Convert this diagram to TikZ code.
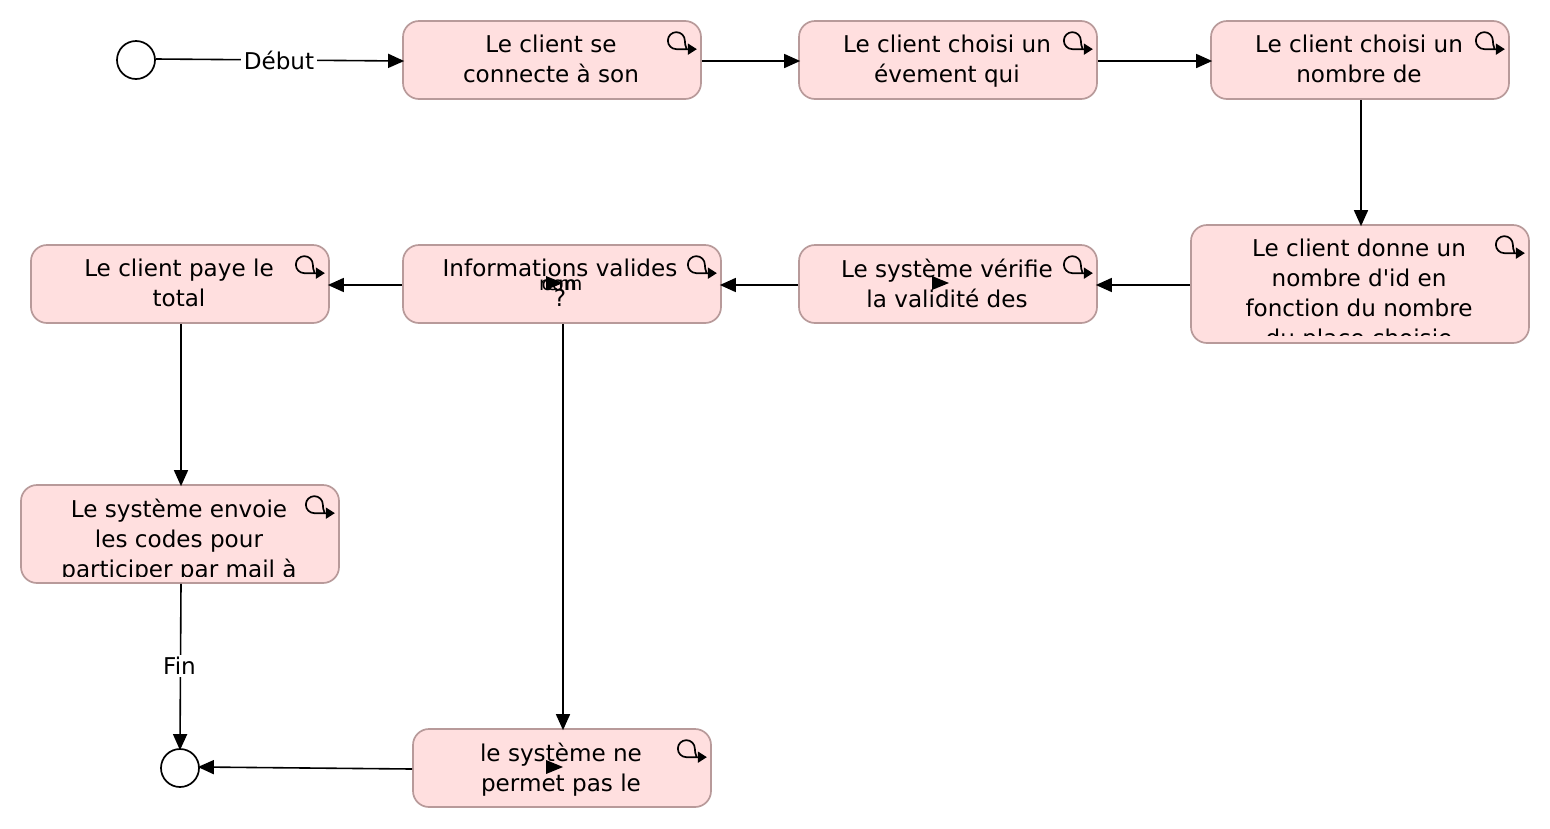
\documentclass[tikz,border=0pt]{standalone}
\usepackage{fontspec}
\setmainfont[Ligatures=TeXOff]{DejaVu Sans}
\usetikzlibrary{arrows.meta}
\definecolor{boxfill}{HTML}{FFDFDF}
\definecolor{boxline}{HTML}{B89A9A}
\tikzset{
  x=1pt,y=-1pt,
  act/.style={draw=boxline,fill=boxfill,line width=1.7pt,rounded corners=16pt,minimum width=#1,inner sep=0pt},
  term/.style={circle,draw=black,fill=white,line width=1.7pt,minimum size=38pt,inner sep=0pt},
  lbl/.style={font=\fontsize{23.1}{30}\selectfont,align=center,anchor=north,inner sep=0pt,text depth=0pt},
  elabel/.style={font=\fontsize{23.1}{30}\selectfont,fill=white,inner xsep=3pt,inner ysep=2pt},
  flow/.style={line width=1.6pt,shorten >=-2pt,-{Triangle[length=16pt,width=14pt]}},
  stray/.style={fill=black,draw=none},
  icon/.style={line width=1.7pt,-{Triangle[length=9pt,width=11pt]}},
  stext/.style={font=\fontsize{19}{19}\selectfont,inner sep=0pt},
}
\newcommand{\loopicon}[1]{%
  \begin{scope}[shift={(#1.north east)}]
  \draw[icon] (-15.5,28) .. controls (-16.5,26) and (-17,23) .. (-17,20.5)
   .. controls (-17,15.8) and (-20.8,12) .. (-25.5,12)
   .. controls (-30.2,12) and (-34,15.8) .. (-34,20.5)
   .. controls (-34,25.2) and (-30.2,29) .. (-25.5,29) -- (-5,29);
  \end{scope}}
\begin{document}
\begin{tikzpicture}
\useasboundingbox (0,0) rectangle (1550,828);
\node[term] (start) at (136,60) {};
\node[term] (end) at (180,768) {};
\node[act=298pt,minimum height=78pt] (b1) at (552,60) {};
\node[act=298pt,minimum height=78pt] (b2) at (948,60) {};
\node[act=298pt,minimum height=78pt] (b3) at (1360,60) {};
\node[act=338pt,minimum height=118pt] (b4) at (1360,284) {};
\node[act=298pt,minimum height=78pt] (b5) at (948,284) {};
\node[act=318pt,minimum height=78pt] (b6) at (562,284) {};
\node[act=298pt,minimum height=78pt] (b7) at (180,284) {};
\node[act=318pt,minimum height=98pt] (b8) at (180,534) {};
\node[act=298pt,minimum height=78pt] (b9) at (562,768) {};
\node[lbl] (t1) at (551,35) {Le client se\\connecte à son};
\node[lbl] (t2) at (947,35) {Le client choisi un\\évement qui};
\node[lbl] (t3) at (1359,35) {Le client choisi un\\nombre de};
\begin{scope}
\clip (1191,225) rectangle (1529,335);
\node[lbl] (t4) at (1359,239) {Le client donne un\\nombre d'id en\\fonction du nombre\\du place choisie};
\end{scope}
\node[lbl] (t5) at (947,259) {Le système vérifie\\la validité des};
\node[lbl] (t6) at (560,259) {Informations valides\\?};
\node[lbl] (t7) at (179,259) {Le client paye le\\total};
\begin{scope}
\clip (21,485) rectangle (339,576);
\node[lbl] (t8) at (179,499) {Le système envoie\\les codes pour\\participer par mail à};
\end{scope}
\node[lbl] (t9) at (561,743) {le système ne\\permet pas le};
\foreach \b in {b1,b2,b3,b4,b5,b6,b7,b8,b9} {\loopicon{\b}}
\draw[flow] ([yshift=1pt]start.east) -- node[elabel] (debut) {Début} ([yshift=-1pt]b1.west);
\draw[flow] ([yshift=-1pt]b1.east) -- ([yshift=-1pt]b2.west);
\draw[flow] ([yshift=-1pt]b2.east) -- ([yshift=-1pt]b3.west);
\draw[flow] ([xshift=1pt]b3.south) -- ([xshift=1pt]b4.north);
\draw[flow] ([yshift=-1pt]b4.west) -- ([yshift=-1pt]b5.east);
\draw[flow] ([yshift=-1pt]b5.west) -- ([yshift=-1pt]b6.east);
\draw[flow] ([yshift=-1pt]b6.west) -- ([yshift=-1pt]b7.east);
\draw[flow] ([xshift=1pt]b7.south) -- ([xshift=1pt]b8.north);
\draw[flow] ([xshift=1pt]b8.south) -- node[elabel,xshift=-1pt] (fin) {Fin} (end.north);
\draw[flow] ([xshift=1pt]b6.south) -- ([xshift=1pt]b9.north);
\draw[flow] ([yshift=-1pt]b9.west) -- ([yshift=1pt]end.east);
\fill[stray] (932,276) -- (949,283) -- (932,290) -- cycle;
\fill[stray] (546,760) -- (563,767) -- (546,774) -- cycle;
\fill[stray] (546,276) -- (563,283) -- (546,290) -- cycle;
\node[stext] (s1) at (558,285) {rem};
\node[stext] (s2) at (562,285) {com};
\end{tikzpicture}
\end{document}
